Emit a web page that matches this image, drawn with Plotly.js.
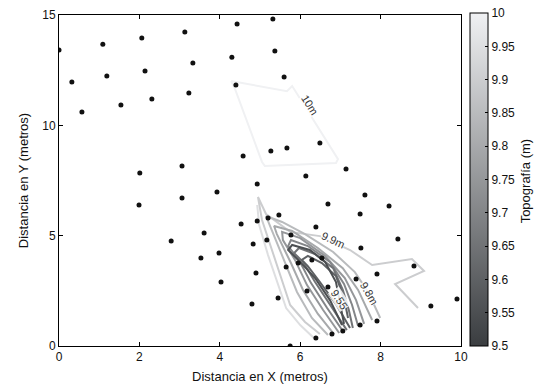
<!DOCTYPE html>
<html><head><meta charset="utf-8">
<script src="https://cdn.plot.ly/plotly-3.0.1.min.js"></script>
<style>html,body{margin:0;padding:0;background:#fff}#chart{width:541px;height:389px}</style>
</head><body><div id="chart"></div>
<script>
// Survey points (metres)
const pointX = [0.00,0.32,0.57,1.09,1.19,1.54,2.06,2.14,2.31,3.13,3.33,3.23,4.43,5.32,4.30,5.37,5.60,4.40,
  5.27,5.67,6.49,4.58,3.06,2.01,7.14,6.14,4.93,3.93,3.06,1.99,6.69,7.61,8.21,7.49,4.53,4.93,5.20,5.47,
  3.61,2.79,4.83,3.98,3.53,4.03,6.39,5.77,8.43,7.51,5.17,6.54,6.29,5.95,5.65,4.90,7.91,8.83,7.39,6.69,
  6.17,5.45,4.80,9.90,9.25,7.91,7.49,7.06,6.79,6.39,5.75];
const pointY = [13.41,11.96,10.60,13.68,12.23,10.92,13.96,12.46,11.19,14.23,12.82,11.46,14.59,14.82,13.09,13.37,12.19,11.83,
  8.84,8.97,9.20,8.61,8.16,7.84,8.02,7.70,7.34,6.98,6.71,6.39,6.43,6.84,6.34,5.98,5.53,5.66,5.80,5.94,
  5.12,4.76,4.62,4.21,3.99,2.90,5.39,5.03,4.85,4.44,4.80,3.99,3.90,3.76,3.58,3.31,3.26,3.62,3.04,2.67,
  2.49,2.17,1.90,2.13,1.81,1.13,0.95,0.68,0.54,0.36,0.00];

// Contour lines of topography (m)
const levels = [10, 9.95, 9.9, 9.85, 9.8, 9.75, 9.7, 9.65, 9.6, 9.55];
const c1000x = [4.28,5.67,5.80,6.94,6.89,5.12,5.05,4.38,4.28];
const c1000y = [12.01,11.55,11.78,8.47,8.29,8.16,8.34,11.64,12.01];
const c995x = [6.34,6.00,5.65,5.45,5.20,4.98,4.93];
const c995y = [0.36,0.95,1.72,2.76,4.12,5.48,6.39];
const c990x = [6.49,6.12,5.75,5.55,5.30,5.05,4.95,5.15,5.75,6.49,7.24,7.79,8.78,9.08,8.36,8.93];
const c990y = [0.54,1.09,1.86,2.99,4.35,5.71,6.75,5.98,5.17,4.98,4.35,3.67,3.94,3.40,2.81,1.72];
const c985x = [6.69,6.29,5.92,5.62,5.25,5.15,5.55,6.12,6.82,7.36,7.69,7.99];
const c985y = [0.50,1.27,2.45,3.81,5.44,5.89,5.62,5.07,4.26,3.35,2.45,1.27];
const c980x = [6.84,6.44,6.07,5.77,5.42,5.35,5.80,6.44,7.06,7.44,7.79];
const c980y = [0.54,1.45,2.54,3.76,5.07,5.44,5.21,4.44,3.53,2.54,1.18];
const c975x = [6.97,6.57,6.17,5.87,5.57,5.55,6.00,6.62,7.11,7.39,7.59];
const c975y = [0.59,1.63,2.76,3.90,4.80,5.17,4.89,4.08,3.08,2.08,1.00];
const c970x = [7.06,6.67,6.27,5.97,5.70,5.77,6.19,6.74,7.09,7.29,7.44];
const c970y = [0.68,1.72,2.85,3.90,4.53,4.80,4.53,3.81,2.81,1.86,0.91];
const c965x = [7.16,6.77,6.37,6.07,5.85,5.97,6.37,6.82,7.06,7.21,7.31];
const c965y = [0.72,1.81,2.90,3.81,4.21,4.44,4.17,3.53,2.54,1.63,0.82];
const c960x = [7.24,6.89,6.49,6.19,6.04,6.19,6.54,6.89,7.09,7.19];
const c960y = [0.82,1.90,2.90,3.62,3.90,4.08,3.76,3.17,2.17,1.27];
const c955x = [7.04,6.74,6.37,6.00,5.70,5.80,6.24,6.62,6.89,6.99,7.09];
const c955y = [0.95,2.08,3.08,3.81,4.35,4.58,4.35,3.81,2.90,1.86,1.00];
const contourX = [c1000x,c995x,c990x,c985x,c980x,c975x,c970x,c965x,c960x,c955x];
const contourY = [c1000y,c995y,c990y,c985y,c980y,c975y,c970y,c965y,c960y,c955y];

// Contour labels
const labelText = ['10m','9.9m','9.8m','9.55'];
const labelX = [6.24,6.82,7.71,6.97];
const labelY = [10.92,4.80,2.40,2.13];
const labelAngle = [58,25,60,57];

// Colour bar ticks
const cbTickVals = [9.5,9.55,9.6,9.65,9.7,9.75,9.8,9.85,9.9,9.95,10];
const cbTickText = ['9.5','9.55','9.6','9.65','9.7','9.75','9.8','9.85','9.9','9.95','10'];

const lo = [58,61,64], hi = [240,241,243];
function grayAt(v){
  const t = Math.max(0, Math.min(1, (v-9.5)/0.5));
  const c = lo.map((a,i)=>Math.round(a+(hi[i]-a)*t));
  return 'rgb('+c.join(',')+')';
}
const cscale = [[0,'rgb(58,61,64)'],[1,'rgb(240,241,243)']];

const traces = [];
levels.forEach((lv,i)=>{
  traces.push({type:'scatter',mode:'lines',x:contourX[i],y:contourY[i],
    line:{color:grayAt(lv),width:2},hoverinfo:'skip',showlegend:false});
});
traces.push({type:'scatter',mode:'markers',x:pointX,y:pointY,
  marker:{size:5,color:'#111'},showlegend:false,hoverinfo:'x+y'});
traces.push({type:'scatter',mode:'markers',x:pointX.slice(0,2),y:pointY.slice(0,2),
  marker:{size:1,opacity:0,color:[9.5,10],cmin:9.5,cmax:10,colorscale:cscale,showscale:true,
    colorbar:{x:1.022,xanchor:'left',xpad:0,ypad:0,y:0,yanchor:'bottom',len:1.006,lenmode:'fraction',
      thickness:18,outlinewidth:1,outlinecolor:'#000',ticks:'inside',ticklen:3,tickcolor:'#000',
      tickvals:cbTickVals,ticktext:cbTickText,tickfont:{size:12,color:'#111'}}},
  showlegend:false,hoverinfo:'skip'});

const annotations = labelText.map((t,i)=>({x:labelX[i],y:labelY[i],text:t,showarrow:false,
  textangle:labelAngle[i],font:{size:11,color:'#333'},bgcolor:'rgba(255,255,255,0.85)',borderpad:0}));
annotations.push({xref:'paper',yref:'paper',x:1.185,y:0.5,text:'Topografía (m)',showarrow:false,
  textangle:-90,font:{size:13,color:'#111'}});

const layout = {
  width:541,height:389,
  margin:{l:59,r:80,t:15,b:43},
  paper_bgcolor:'#fff',plot_bgcolor:'#fff',
  font:{family:'"Liberation Sans", Arial, sans-serif',size:12,color:'#111'},
  showlegend:false,
  xaxis:{range:[0,10],dtick:2,tick0:0,ticks:'inside',ticklen:4,tickcolor:'#000',mirror:'ticks',
    showline:true,linecolor:'#000',linewidth:1,showgrid:false,zeroline:false,
    title:{text:'Distancia en X (metros)',font:{size:13},standoff:8}},
  yaxis:{range:[0,15],dtick:5,tick0:0,ticks:'inside',ticklen:4,tickcolor:'#000',mirror:'ticks',
    showline:true,linecolor:'#000',linewidth:1,showgrid:false,zeroline:false,
    title:{text:'Distancia en Y (metros)',font:{size:13},standoff:10}},
  annotations:annotations
};
Plotly.newPlot('chart',traces,layout,{displayModeBar:false,staticPlot:true});
</script></body></html>
